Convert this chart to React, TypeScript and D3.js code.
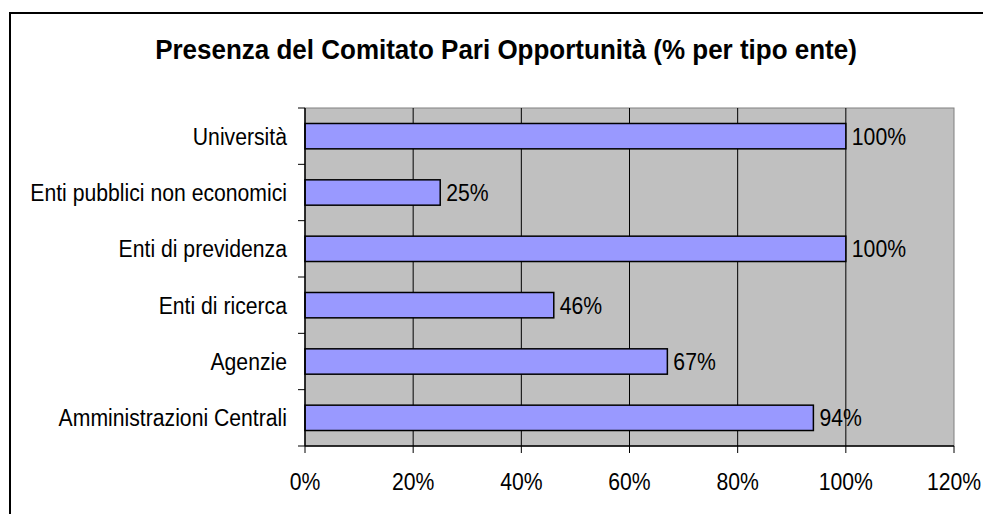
import React from "react";
import * as d3 from "d3";

const categories = [
  "Università",
  "Enti pubblici non economici",
  "Enti di previdenza",
  "Enti di ricerca",
  "Agenzie",
  "Amministrazioni Centrali",
];
const values = [100, 25, 100, 46, 67, 94];
const xTicks = [0, 20, 40, 60, 80, 100, 120];
const title = "Presenza del Comitato Pari Opportunità (% per tipo ente)";

const W = 983;
const H = 514;
const plotL = 305;
const plotR = 954;
const plotT = 108;
const plotB = 446;
const FONT = "'Liberation Sans', Arial, sans-serif";
const SY = 1.15;
const FS = 21.2;

export default function App() {
  const x = d3.scaleLinear().domain([0, 120]).range([plotL, plotR]);
  const y = d3.scaleBand<string>().domain(categories).range([plotT, plotB]).paddingInner(0.55).paddingOuter(0.275);
  const bandStep = (plotB - plotT) / categories.length;
  const boundaries = d3.range(categories.length + 1).map((i) => plotT + i * bandStep);

  const txt = (tx: number, ty: number, s: string, anchor: string, size: number, weight = "normal", key?: any, sy = SY) => (
    <text
      key={key}
      transform={`translate(${tx},${ty}) scale(1,${sy})`}
      textAnchor={anchor}
      fontSize={size}
      fontWeight={weight}
      fontFamily={FONT}
      fill="#000"
    >
      {s}
    </text>
  );

  return (
    <svg width={W} height={H} style={{ position: "absolute", left: 0, top: 0 }}>
      <rect x={0} y={0} width={W} height={H} fill="#fff" />
      <rect x={10} y={13} width={1000} height={600} fill="#fff" stroke="#000" strokeWidth={2} />
      {txt(506, 59, title, "middle", 26, "bold", "title", 1.08)}
      <rect x={plotL} y={plotT} width={plotR - plotL} height={plotB - plotT} fill="#C0C0C0" stroke="#808080" strokeWidth={1} />
      {xTicks.slice(1, -1).map((t) => (
        <line key={t} x1={x(t)} x2={x(t)} y1={plotT} y2={plotB} stroke="#000" strokeWidth={1} />
      ))}
      {categories.map((c, i) => (
        <rect
          key={c}
          x={x(0)}
          y={y(c)!}
          width={x(values[i]) - x(0)}
          height={y.bandwidth()}
          fill="#9999FF"
          stroke="#000"
          strokeWidth={1.5}
        />
      ))}
      <line x1={plotL} x2={plotL} y1={plotT} y2={plotB} stroke="#000" strokeWidth={1.5} />
      <line x1={plotL} x2={plotR} y1={plotB} y2={plotB} stroke="#000" strokeWidth={1.5} />
      {boundaries.map((b, i) => (
        <line key={i} x1={plotL - 7} x2={plotL} y1={b} y2={b} stroke="#000" strokeWidth={1} />
      ))}
      {xTicks.map((t) => (
        <line key={t} x1={x(t)} x2={x(t)} y1={plotB} y2={plotB + 7} stroke="#000" strokeWidth={1} />
      ))}
      {xTicks.map((t, i) => txt(x(t), 490, `${t}%`, "middle", FS, "normal", "xt" + i))}
      {categories.map((c, i) => txt(287, y(c)! + y.bandwidth() / 2 + 8.5, c, "end", FS, "normal", "c" + i))}
      {categories.map((c, i) => txt(x(values[i]) + 6, y(c)! + y.bandwidth() / 2 + 8.5, `${values[i]}%`, "start", FS, "normal", "v" + i))}
    </svg>
  );
}
